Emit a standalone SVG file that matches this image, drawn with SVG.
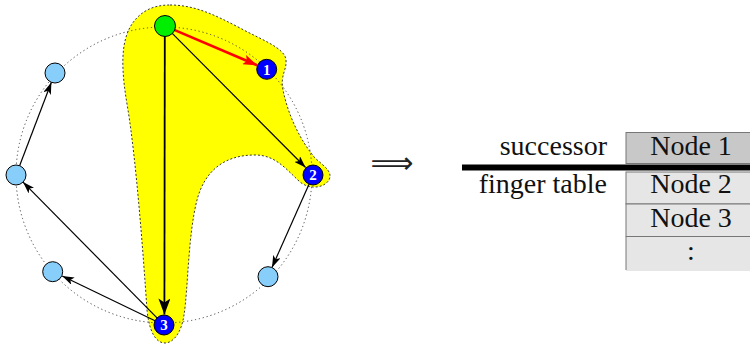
<svg xmlns="http://www.w3.org/2000/svg" width="750" height="344" viewBox="0 0 750 344">
<style>
.ring{fill:none;stroke:#444;stroke-width:1;stroke-dasharray:1.2 2.8}
.blob{fill:#ffff00;stroke:#222;stroke-width:0.9;stroke-dasharray:2 2}
.e{stroke:#000;stroke-width:1.2;fill:none;marker-end:url(#ah)}
.eb{stroke:#000;stroke-width:1.8;fill:none;marker-end:url(#ahb)}
.er{stroke:#ff0000;stroke-width:2.6;fill:none;marker-end:url(#ahr)}
.n{stroke:#000;stroke-width:1}
.lb{fill:#87cefa}
.bl{fill:#0000ff}
.gr{fill:#00ee00}
.num{font-family:'Liberation Serif',serif;font-weight:bold;font-size:15px;fill:#fff;text-anchor:middle}
.t{font-family:'Liberation Serif',serif;font-size:28px;fill:#111}
.c{stroke:#777;stroke-width:1}
</style>
<defs>
<marker id="ah" viewBox="0 0 12 8" refX="12" refY="4" markerWidth="12" markerHeight="8" markerUnits="userSpaceOnUse" orient="auto"><path d="M0,0 L12,4 L0,8 L3,4 Z" fill="#000"/></marker>
<marker id="ahb" viewBox="0 0 16 12" refX="16" refY="6" markerWidth="16" markerHeight="12" markerUnits="userSpaceOnUse" orient="auto"><path d="M0,0 L16,6 L0,12 L4,6 Z" fill="#000"/></marker>
<marker id="ahr" viewBox="0 0 14 10" refX="14" refY="5" markerWidth="14" markerHeight="10" markerUnits="userSpaceOnUse" orient="auto"><path d="M0,0 L14,5 L0,10 L3,5 Z" fill="#ff0000"/></marker>
</defs>
<path class="blob" d="M170,5 C195,5 215,15 240,28 C262,40 285,48 286,60 C287,70 280,75 283,90 C288,115 300,140 315,158 C325,167 333,172 329,180 C324,188 310,190 300,182 C285,168 275,155 255,155 C225,155 205,170 197,200 C188,235 188,290 184,315 C181,335 172,343 165,343 C155,343 149,330 147,310 C143,250 136,160 128,110 C122,75 118,40 135,20 C145,8 158,5 170,5 Z"/>
<circle class="ring" cx="164" cy="175" r="148"/>
<g id="edges">
<line class="er" x1="174.2" y1="29.9" x2="257" y2="65.2"/>
<line class="e" x1="172" y1="33.1" x2="305.6" y2="167.5"/>
<line class="eb" x1="164.8" y1="36" x2="164.4" y2="314.5"/>
<line class="e" x1="309" y1="184.2" x2="272" y2="267.5"/>
<line class="e" x1="157" y1="317.9" x2="23" y2="182.1"/>
<line class="e" x1="155" y1="320.7" x2="62.2" y2="276"/>
<line class="e" x1="19.6" y1="165.7" x2="51.4" y2="82.3"/>
</g>
<g id="start"><circle class="n gr" cx="165" cy="26" r="10.5"/></g>
<g id="n1"><circle class="n bl" cx="266.7" cy="69.3" r="10"/><text class="num" x="266.7" y="74.5">1</text></g>
<g id="n2"><circle class="n bl" cx="313" cy="175" r="10"/><text class="num" x="313" y="180.2">2</text></g>
<g id="n3"><circle class="n bl" cx="164" cy="325" r="10"/><text class="num" x="164" y="330.2">3</text></g>
<g id="a"><circle class="n lb" cx="55" cy="73" r="10"/></g>
<g id="b"><circle class="n lb" cx="16" cy="175" r="10"/></g>
<g id="c"><circle class="n lb" cx="52.7" cy="271.7" r="10"/></g>
<g id="d"><circle class="n lb" cx="268" cy="276.7" r="10"/></g>
<g id="implies"><text x="392" y="173" font-family="'DejaVu Sans', sans-serif" font-size="30" text-anchor="middle" fill="#222">⟹</text></g>
<g id="table">
<rect class="c" x="626" y="132.5" width="130" height="31" fill="#c8c8c8"/>
<rect class="c" x="626" y="172" width="130" height="32" fill="#e6e6e6"/>
<rect class="c" x="626" y="204" width="130" height="32.5" fill="#e6e6e6"/>
<path d="M626,236.5 H756 V271 H626 Z" fill="#e6e6e6"/>
<path class="c" d="M626,236.5 H756 M626,236.5 V270" fill="none"/>
<line x1="462" y1="167.5" x2="750" y2="167.5" stroke="#000" stroke-width="6"/>
<text class="t" x="691" y="155" text-anchor="middle">Node 1</text>
<text class="t" x="691" y="193" text-anchor="middle">Node 2</text>
<text class="t" x="691" y="227" text-anchor="middle">Node 3</text>
<text class="t" x="691" y="260" text-anchor="middle">:</text>
<text class="t" x="607" y="155" text-anchor="end">successor</text>
<text class="t" x="607" y="193" text-anchor="end">finger table</text>
</g>
</svg>
